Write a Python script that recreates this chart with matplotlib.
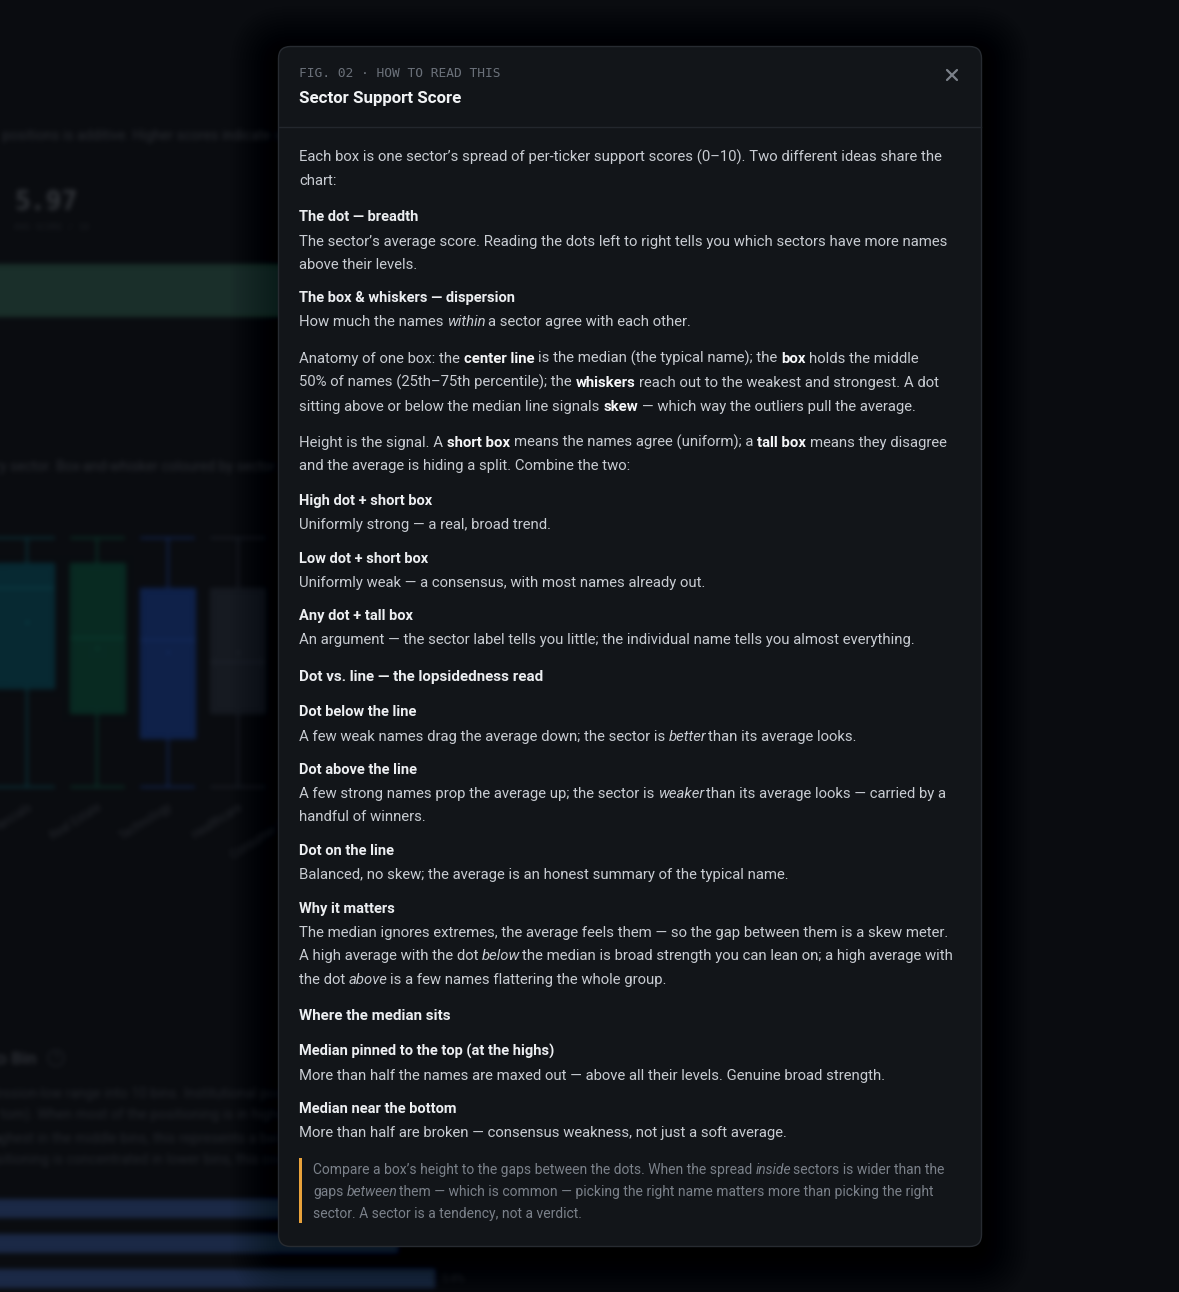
import re
import numpy as np
import matplotlib
matplotlib.use('Agg')
import matplotlib.pyplot as plt
from matplotlib.patches import FancyBboxPatch, Rectangle, Circle

W, H, DPI = 1179, 1292, 100
BG = '#0a0c10'
plt.rcParams['font.family'] = ['Roboto', 'DejaVu Sans']

# ---------------- background dashboard data (blurred behind the dialog)
avg_score = 5.97
sectors = ['Financials', 'Real Estate', 'Technology', 'Healthcare', 'Consumer Staples']
whis_lo = [0.3, 0.3, 0.3, 0.3, 0.3]
q1 = [3.96, 3.04, 2.11, 3.04, 3.3]
medians = [7.67, 5.81, 5.74, 4.93, 5.2]
q3 = [8.59, 8.59, 7.67, 7.67, 7.4]
whis_hi = [9.52, 9.52, 9.52, 9.52, 9.52]
means = [6.41, 5.44, 5.30, 5.30, 5.1]
box_face = ['#072932', '#082a22', '#0f2149', '#161a21', '#1a1d24']
box_line = ['#0b3a42', '#0b3a2d', '#142a5c', '#1f242c', '#1f242c']

bin_vals = [62.0, 43.8, 47.5]
bin_labels = ['', '', '5.4%']

# ---------------- dialog text
fig_label = 'FIG. 02 \u00b7 HOW TO READ THIS'
title = 'Sector Support Score'
lines = [
    ('p', 'Each box is one sector\u2019s spread of per-ticker support scores (0\u201310). Two different ideas share the'),
    ('p', 'chart:'),
    ('h', 'The dot \u2014 breadth'),
    ('p', 'The sector\u2019s average score. Reading the dots left to right tells you which sectors have more names'),
    ('p', 'above their levels.'),
    ('h', 'The box & whiskers \u2014 dispersion'),
    ('p', 'How much the names *within* a sector agree with each other.'),
    ('p', 'Anatomy of one box: the **center line** is the median (the typical name); the **box** holds the middle'),
    ('p', '50% of names (25th\u201375th percentile); the **whiskers** reach out to the weakest and strongest. A dot'),
    ('p', 'sitting above or below the median line signals **skew** \u2014 which way the outliers pull the average.'),
    ('p', 'Height is the signal. A **short box** means the names agree (uniform); a **tall box** means they disagree'),
    ('p', 'and the average is hiding a split. Combine the two:'),
    ('h', 'High dot + short box'),
    ('p', 'Uniformly strong \u2014 a real, broad trend.'),
    ('h', 'Low dot + short box'),
    ('p', 'Uniformly weak \u2014 a consensus, with most names already out.'),
    ('h', 'Any dot + tall box'),
    ('p', 'An argument \u2014 the sector label tells you little; the individual name tells you almost everything.'),
    ('s', 'Dot vs. line \u2014 the lopsidedness read'),
    ('h', 'Dot below the line'),
    ('p', 'A few weak names drag the average down; the sector is *better* than its average looks.'),
    ('h', 'Dot above the line'),
    ('p', 'A few strong names prop the average up; the sector is *weaker* than its average looks \u2014 carried by a'),
    ('p', 'handful of winners.'),
    ('h', 'Dot on the line'),
    ('p', 'Balanced, no skew; the average is an honest summary of the typical name.'),
    ('h', 'Why it matters'),
    ('p', 'The median ignores extremes, the average feels them \u2014 so the gap between them is a skew meter.'),
    ('p', 'A high average with the dot *below* the median is broad strength you can lean on; a high average with'),
    ('p', 'the dot *above* is a few names flattering the whole group.'),
    ('s', 'Where the median sits'),
    ('h', 'Median pinned to the top (at the highs)'),
    ('p', 'More than half the names are maxed out \u2014 above all their levels. Genuine broad strength.'),
    ('h', 'Median near the bottom'),
    ('p', 'More than half are broken \u2014 consensus weakness, not just a soft average.'),
    ('q', 'Compare a box\u2019s height to the gaps between the dots. When the spread *inside* sectors is wider than the'),
    ('q', 'gaps *between* them \u2014 which is common \u2014 picking the right name matters more than picking the right'),
    ('q', 'sector. A sector is a tendency, not a verdict.'),
]
# baseline of each line (layout, px from top)
line_y = [162, 185, 221, 246, 269, 302, 326, 363, 387, 411, 447, 470, 505, 529, 563, 587,
          620, 644, 681, 716, 741, 774, 798, 821, 855, 879, 913, 937, 960, 984, 1020, 1056,
          1080, 1113, 1137, 1174, 1196, 1218]


def pax(f, left, top, w, h):
    return f.add_axes([left / W, 1 - (top + h) / H, w / W, h / H])


def blur(img, sigma):
    r = int(3 * sigma)
    k = np.exp(-0.5 * (np.arange(-r, r + 1) / sigma) ** 2)
    k /= k.sum()
    for a in (0, 1):
        pad = [(0, 0)] * img.ndim
        pad[a] = (r, r)
        p = np.pad(img, pad, mode='edge')
        n = img.shape[a]
        img = sum(k[i] * np.take(p, np.arange(i, i + n), axis=a) for i in range(2 * r + 1))
    return img


# ---------------- draw the background page
fb = plt.figure(figsize=(W / DPI, H / DPI), dpi=DPI, facecolor=BG)
tb = pax(fb, 0, 0, W, H)
tb.set_xlim(0, W)
tb.set_ylim(H, 0)
tb.axis('off')
dim = '#2a2d33'
tb.text(-6, 140, 'r positions is additive. Higher scores indicate stronger support across the book.',
        color=dim, fontsize=10, va='baseline')
tb.text(14, 210, f'{avg_score:.2f}', family='DejaVu Sans Mono', fontweight='bold', fontsize=19,
        color='#34373c', va='baseline')
tb.text(14, 230, 'AVG SCORE / 10', family='DejaVu Sans Mono', fontsize=6.5, color='#1d2025', va='baseline')
tb.text(-8, 471, 'by sector. Box-and-whisker coloured by sector group, dot marks the average.',
        color=dim, fontsize=10, va='baseline')
tb.text(36, 1064, 'Positioning by Ratio Bin', ha='right', fontweight='bold', fontsize=12.5,
        color=dim, va='baseline')
tb.add_patch(Circle((56, 1058), 8, fc='none', ec='#1f2228', lw=1))
tb.text(56, 1058, '?', ha='center', va='center', fontsize=7, color='#26292f')
for yy, s in zip([1098, 1120, 1143, 1164],
                 ['ession-low range into 10 bins. Institutional positioning is summed per bin',
                  'ttom). When most of the positioning is in higher bins, the group is strong',
                  'ighest in the middle bins, this represents a balanced book across ranges',
                  'sitioning is concentrated in lower bins, this could signal weakness ahead']):
    tb.text(-4, yy, s, color='#23262c', fontsize=10, va='baseline')

# score gauge
gx = pax(fb, -10, 264, 1000, 53)
gx.barh([0], [avg_score], height=1.0, color='#1a2f2a')
gx.set_xlim(0, 10)
gx.set_ylim(-0.5, 0.5)
gx.axis('off')

# box-and-whisker by sector
bx = pax(fb, -8.2, 525, 351.5, 270)
stats = [dict(whislo=a, q1=b, med=c, q3=d, whishi=e, mean=f)
         for a, b, c, d, e, f in zip(whis_lo, q1, medians, q3, whis_hi, means)]
bp = bx.bxp(stats, positions=range(len(sectors)), widths=0.78, capwidths=0.76,
            showmeans=True, showfliers=False, patch_artist=True,
            meanprops=dict(marker='o', markersize=3, markeredgecolor='none'))
for i in range(len(sectors)):
    bp['boxes'][i].set_facecolor(box_face[i])
    bp['boxes'][i].set_edgecolor(box_face[i])
    bp['medians'][i].set_color(box_line[i])
    bp['medians'][i].set_linewidth(1.5)
    bp['means'][i].set_markerfacecolor(box_line[i])
    for j in (2 * i, 2 * i + 1):
        bp['whiskers'][j].set_color(box_line[i])
        bp['whiskers'][j].set_linewidth(1.2)
        bp['caps'][j].set_color(box_line[i])
        bp['caps'][j].set_linewidth(1.2)
bx.set_xlim(-0.5, len(sectors) - 0.5)
bx.set_ylim(0, 10)
bx.set_xticks(range(len(sectors)), sectors, rotation=32, ha='right', rotation_mode='anchor',
              fontsize=8.5, color='#26292f')
bx.tick_params(length=0, pad=4)
bx.set_yticks([])
for sp in bx.spines.values():
    sp.set_visible(False)
bx.patch.set_alpha(0)

# bins bars
hx = pax(fb, -40, 1191, 1000, 105)
hx.barh(range(len(bin_vals)), bin_vals, height=0.52, color='#1b2946')
for i, (v, lab) in enumerate(zip(bin_vals, bin_labels)):
    hx.text(v + 0.6, i, lab, va='center', fontsize=8, color='#23262c')
hx.set_xlim(0, 100)
hx.set_ylim(len(bin_vals) - 0.5, -0.5)
hx.axis('off')

fb.canvas.draw()
bg = np.asarray(fb.canvas.buffer_rgba())[..., :3].astype(float) / 255
plt.close(fb)
bg = blur(bg, 2.6)

# ---------------- main figure
fig = plt.figure(figsize=(W / DPI, H / DPI), dpi=DPI, facecolor=BG)
ai = fig.add_axes([0, 0, 1, 1])
ai.imshow(bg, extent=(0, W, H, 0), interpolation='bilinear', aspect='auto')
ai.axis('off')

ov = fig.add_axes([0, 0, 1, 1])
ov.set_xlim(0, W)
ov.set_ylim(H, 0)
ov.axis('off')
ov.patch.set_alpha(0)
renderer = fig.canvas.get_renderer()

MX, MY, MW, MH = 278.5, 46.5, 703, 1200
for d in range(3, 50, 3):
    ov.add_patch(FancyBboxPatch((MX - d, MY - d + 8), MW + 2 * d, MH + 2 * d,
                                boxstyle=f'round,pad=0,rounding_size={12 + d}',
                                fc='black', ec='none', alpha=0.022))
ov.add_patch(FancyBboxPatch((MX, MY), MW, MH, boxstyle='round,pad=0,rounding_size=12',
                            fc='#121519', ec='#272b31', lw=1))
ov.plot([MX + 0.5, MX + MW - 0.5], [126.5, 126.5], color='#23272d', lw=1)
ov.plot([947, 957], [70, 80], color='#7b818a', lw=1.6, solid_capstyle='round')
ov.plot([947, 957], [80, 70], color='#7b818a', lw=1.6, solid_capstyle='round')
ov.add_patch(Rectangle((299, 1158), 3, 65, fc='#e9a23b', ec='none'))


def width_of(s, size, weight='normal', style='normal', family=None):
    kw = {} if family is None else dict(family=family)
    t = ov.text(0, 0, s, fontsize=size, fontweight=weight, fontstyle=style, **kw)
    w = t.get_window_extent(renderer).width
    t.remove()
    return w


def fit(s, target, weight='normal', family=None):
    return 10 * target / width_of(s.replace('*', ''), 10, weight, family=family)


def parse(s):
    segs = []
    for part in re.split(r'(\*\*.+?\*\*|\*.+?\*)', s):
        if not part:
            continue
        if part.startswith('**'):
            segs.append((part[2:-2], 'b'))
        elif part.startswith('*'):
            segs.append((part[1:-1], 'i'))
        else:
            segs.append((part, 'n'))
    return segs


def put_line(x, y, s, size, color, bold_color):
    sp = width_of('x x', size) - width_of('xx', size)
    prev = 'n'
    for txt, st in parse(s):
        core = txt.strip(' ')
        lead = (len(txt) - len(txt.lstrip(' '))) * sp
        if prev == 'i':
            lead *= 0.45
        x += lead
        t = ov.text(x, y, core, fontsize=size, va='baseline', ha='left',
                    fontweight='bold' if st == 'b' else 'normal',
                    fontstyle='italic' if st == 'i' else 'normal',
                    color=bold_color if st == 'b' else color)
        x += t.get_window_extent(renderer).width + (len(txt) - len(txt.rstrip(' '))) * sp
        prev = st


size_p = fit(lines[0][1], 647)
size_h = fit('The dot \u2014 breadth', 120, 'bold')
size_s = fit('Dot vs. line \u2014 the lopsidedness read', 246, 'bold')
size_q = fit(lines[-3][1], 633)
size_t = fit(title, 162, 'bold')
size_f = fit(fig_label, 203, family='DejaVu Sans Mono')

ov.text(299, 77, fig_label, family='DejaVu Sans Mono', fontsize=size_f, color='#6b717a', va='baseline')
ov.text(299, 103, title, fontsize=size_t, fontweight='bold', color='#f1f3f5', va='baseline')

for (kind, s), y in zip(lines, line_y):
    if kind == 'p':
        put_line(299, y, s, size_p, '#c8ccd2', '#f5f6f8')
    elif kind == 'h':
        ov.text(299, y, s, fontsize=size_h, fontweight='bold', color='#eceef1', va='baseline')
    elif kind == 's':
        ov.text(299, y, s, fontsize=size_s, fontweight='bold', color='#eceef1', va='baseline')
    else:
        put_line(313, y, s, size_q, '#7b818a', '#9aa0a8')

fig.savefig('out.png', dpi=DPI, facecolor=BG)
